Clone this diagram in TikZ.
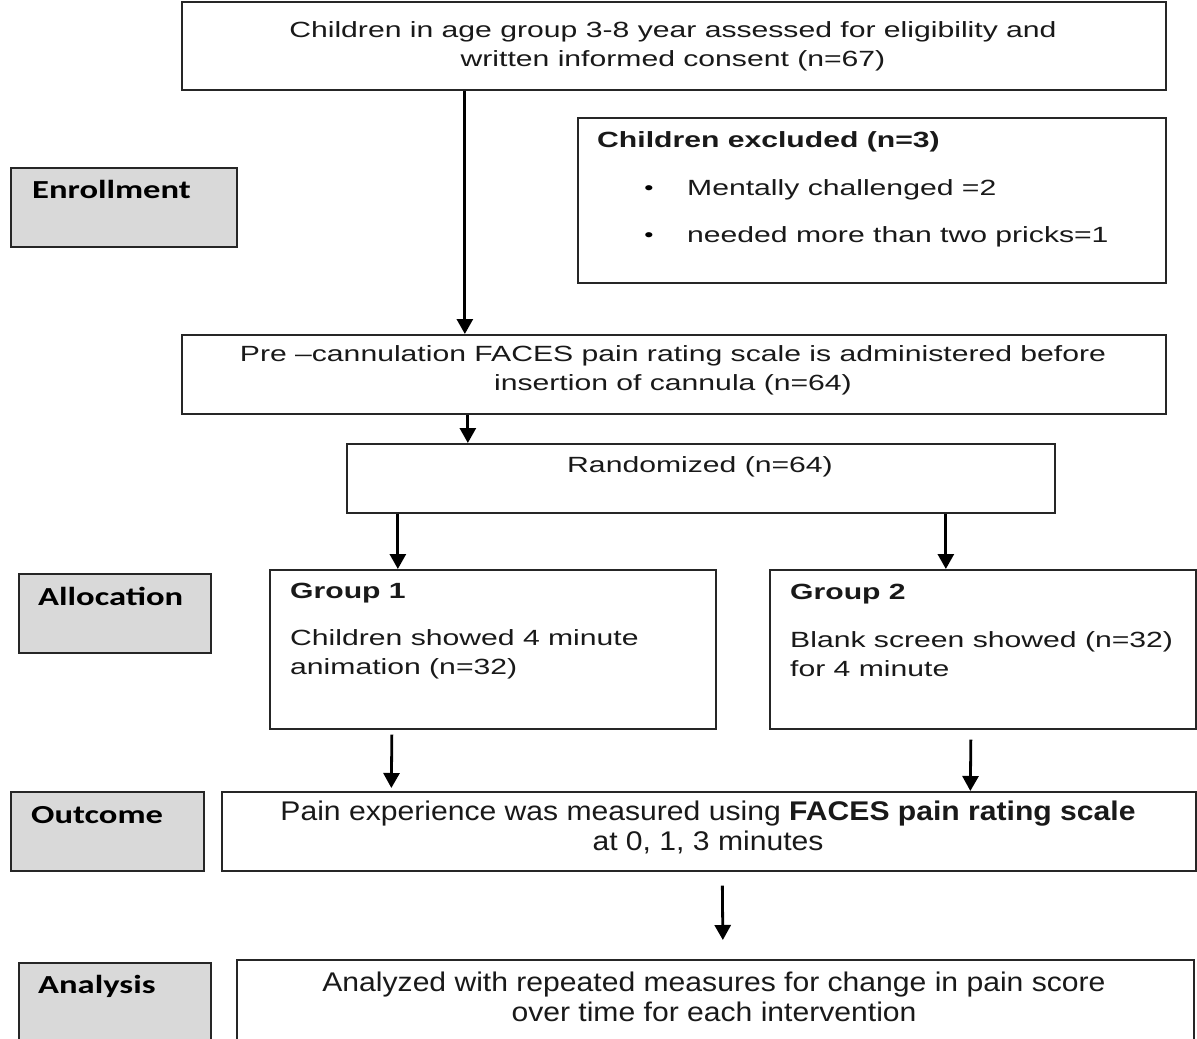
\documentclass[tikz,border=0pt]{standalone}
\usepackage{fontspec}
\usetikzlibrary{arrows.meta}
\newfontfamily\fw[FakeStretch=1.37]{Liberation Sans}
\newfontfamily\fn[FakeStretch=1.115]{Liberation Sans}
\newfontfamily\fc[FakeStretch=1.33]{Carlito}
\begin{document}
\begin{tikzpicture}[x=1pt,y=-1pt,
  box/.style={draw=black!85,line width=1.7pt,rectangle,inner sep=0pt,anchor=north west},
  lab/.style={box,fill=black!15},
  txt/.style={inner sep=0pt,text=black!90,font=\fw\fontsize{22}{29}\selectfont},
  ntxt/.style={inner sep=0pt,text=black!90,font=\fn\fontsize{27}{30}\selectfont},
  ltxt/.style={inner sep=0pt,text=black,font=\fc\bfseries\fontsize{26}{30}\selectfont,anchor=base west},
  btxt/.style={inner sep=0pt,text=black,font=\fw\fontsize{19}{19}\selectfont,anchor=base},
  arr/.style={line width=2.8pt,-{Triangle[width=16pt,length=15pt]}}
]
\clip (0,0) rectangle (1197,1039);
\fill[white] (0,0) rectangle (1197,1039);

% boxes
\node[box,minimum width=984,minimum height=88] (b1) at (181,1) {};
\node[box,minimum width=588,minimum height=165] (exc) at (577,117) {};
\node[lab,minimum width=226,minimum height=79] (enr) at (10,167) {};
\node[box,minimum width=984,minimum height=79] (pre) at (181,334) {};
\node[box,minimum width=708,minimum height=69] (rnd) at (346,443) {};
\node[lab,minimum width=192,minimum height=79] (alo) at (18,573) {};
\node[box,minimum width=446,minimum height=159] (g1) at (269,569) {};
\node[box,minimum width=426,minimum height=159] (g2) at (769,569) {};
\node[lab,minimum width=193,minimum height=79] (outl) at (10,791) {};
\node[box,minimum width=974,minimum height=79] (out) at (221,791) {};
\node[lab,minimum width=192,minimum height=100] (anal) at (18,962) {};
\node[box,minimum width=957,minimum height=103] (ana) at (236,959) {};

% texts
\node[txt,align=center] (t1) at (673,46.5) {Children in age group 3-8 year assessed for eligibility and\\written informed consent (n=67)};
\node[txt,anchor=base west] (te) at (597,147) {\bfseries Children excluded (n=3)};
\node[btxt] (bu1) at (649,194) {•};
\node[txt,anchor=base west] (te1) at (687,195) {Mentally challenged =2};
\node[btxt] (bu2) at (649,241) {•};
\node[txt,anchor=base west] (te2) at (687,242) {needed more than two pricks=1};
\node[ltxt] (tenr) at (32,198.5) {Enrollment};
\node[txt,align=center] (tpre) at (673,370.5) {Pre –cannulation FACES pain rating scale is administered before\\insertion of cannula (n=64)};
\node[txt,anchor=base] (trnd) at (700,472) {Randomized (n=64)};
\node[ltxt] (talo) at (38,605.5) {Allocation};
\node[txt,anchor=base west] (tg1h) at (290,598) {\bfseries Group 1};
\node[txt,anchor=north west,align=left] (tg1) at (290,629) {Children showed 4 minute\\animation (n=32)};
\node[txt,anchor=base west] (tg2h) at (790,599) {\bfseries Group 2};
\node[txt,anchor=north west,align=left] (tg2) at (790,631) {Blank screen showed (n=32)\\for 4 minute};
\node[ltxt] (toutl) at (31,823.5) {Outcome};
\node[ntxt,align=center] (tout) at (708,827) {Pain experience was measured using \textbf{FACES pain rating scale}\\at 0, 1, 3 minutes};
\node[ltxt] (tanal) at (38,993.5) {Analysis};
\node[ntxt,align=center] (tana) at (714,996.5) {Analyzed with repeated measures for change in pain score\\over time for each intervention};

% arrows
\draw[arr] ([xshift=-209]b1.south) -- ([xshift=-209]pre.north);
\draw[arr] ([xshift=-206]pre.south) -- ([xshift=-233]rnd.north);
\draw[arr] ([xshift=-303]rnd.south) -- ([xshift=-95]g1.north);
\draw[arr] ([xshift=245]rnd.south) -- ([xshift=-37]g2.north);
\draw[arr] ([xshift=-101,yshift=-5]g1.south) -- ([xshift=-317.5,yshift=3]out.north);
\draw[arr] ([xshift=-12,yshift=-10]g2.south) -- ([xshift=261.5]out.north);
\draw[arr] ([xshift=13.5,yshift=-14]out.south) -- ([xshift=7.5,yshift=19]ana.north);
\end{tikzpicture}
\end{document}
